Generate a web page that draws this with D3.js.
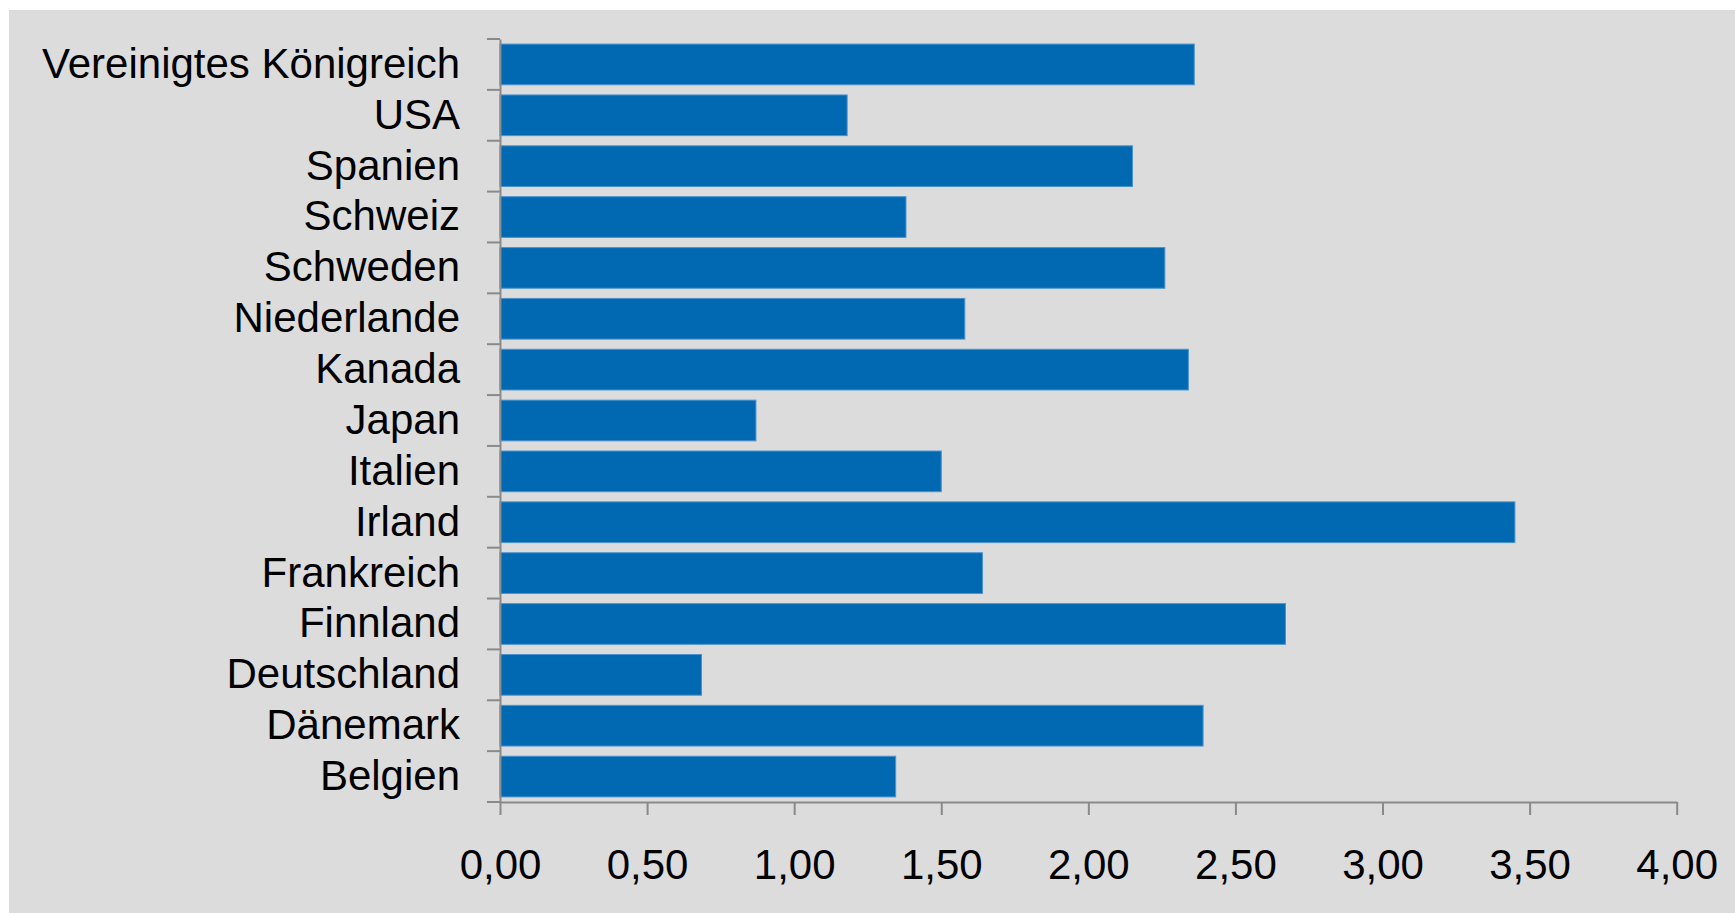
<!DOCTYPE html>
<html>
  <head>
    <meta charset="utf-8" />
    <title>Länder Balkendiagramm</title>
    <script src="https://d3js.org/d3.v7.min.js"></script>
    <style>
      body { margin: 0; background: #ffffff; }
      #chart { position: fixed; left: 0px; top: 0px; right: 0px; bottom: 0px; }
      text { font-family: "Liberation Sans", Arial, sans-serif; }
    </style>
  </head>
  <body>
    <div id="chart"></div>

    <script>
      // Categories top to bottom, as drawn.
      const countries = [
        "Vereinigtes Königreich", "USA", "Spanien", "Schweiz", "Schweden",
        "Niederlande", "Kanada", "Japan", "Italien", "Irland",
        "Frankreich", "Finnland", "Deutschland", "Dänemark", "Belgien"
      ];
      const values = [
        2.36, 1.18, 2.15, 1.38, 2.26,
        1.58, 2.34, 0.87, 1.50, 3.45,
        1.64, 2.67, 0.685, 2.39, 1.345
      ];
      const xTicks = [0, 0.5, 1, 1.5, 2, 2.5, 3, 3.5, 4];

      const width = 1735;
      const height = 913;

      const svg = d3.select("#chart").append("svg")
        .attr("width", width)
        .attr("height", height);

      // Grey panel behind the chart.
      svg.append("rect")
        .attr("x", 9)
        .attr("y", 10)
        .attr("width", width - 9)
        .attr("height", height - 10)
        .attr("fill", "#dcdcdc");

      const x = d3.scaleLinear().domain([0, 4]).range([500, 1676.7]);
      const y = d3.scaleBand()
        .domain(countries)
        .range([39, 802])
        .paddingInner(0.2)
        .paddingOuter(0.1);

      const de = d3.formatLocale({ decimal: ",", thousands: ".", grouping: [3], currency: ["", " €"] });
      const fmt = de.format(".2f");

      const axisColor = "#8a8a8a";

      // Bars
      svg.append("g")
        .selectAll("rect")
        .data(countries)
        .join("rect")
        .attr("x", x(0))
        .attr("y", d => y(d))
        .attr("width", (d, i) => x(values[i]) - x(0))
        .attr("height", y.bandwidth())
        .attr("fill", "#0069b1")
        .attr("stroke", "#4a92cf")
        .attr("stroke-width", 1);

      // X axis
      const gx = svg.append("g")
        .attr("transform", `translate(0,${y.range()[1]})`)
        .call(d3.axisBottom(x).tickValues(xTicks).tickFormat(fmt)
          .tickSize(13).tickSizeOuter(0).tickPadding(34));
      gx.selectAll("path, line").attr("stroke", axisColor).attr("stroke-width", 2);
      gx.selectAll("text")
        .attr("fill", "#000")
        .attr("font-size", 42)
        .attr("font-family", "'Liberation Sans', Arial, sans-serif");

      // Y axis: labels centred on bands, ticks on band boundaries
      const gy = svg.append("g")
        .attr("transform", `translate(${x(0)},0)`)
        .call(d3.axisLeft(y).tickSize(0).tickSizeOuter(0).tickPadding(40));
      gy.select("path").attr("stroke", axisColor).attr("stroke-width", 2);
      gy.selectAll("text")
        .attr("fill", "#000")
        .attr("font-size", 42)
        .attr("font-family", "'Liberation Sans', Arial, sans-serif");

      gy.selectAll("line.boundary")
        .data(d3.range(countries.length + 1))
        .join("line")
        .attr("class", "boundary")
        .attr("x1", -13)
        .attr("x2", 0)
        .attr("y1", i => y.range()[0] + i * y.step())
        .attr("y2", i => y.range()[0] + i * y.step())
        .attr("stroke", axisColor)
        .attr("stroke-width", 2);
    </script>
  </body>
</html>
